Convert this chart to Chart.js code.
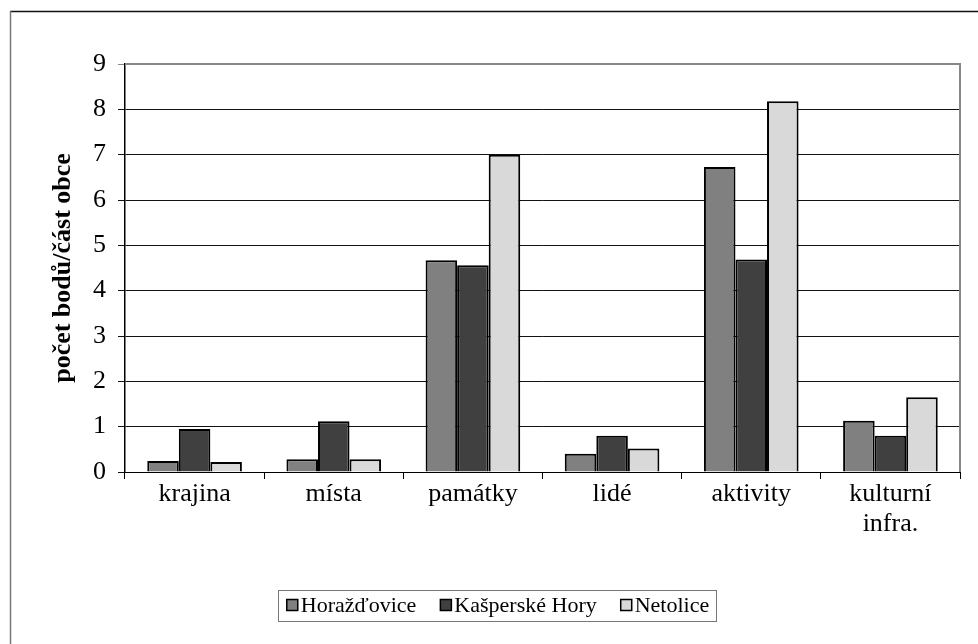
<!DOCTYPE html>
<html>
<head>
<meta charset="utf-8">
<script src="https://cdn.jsdelivr.net/npm/chart.js@4"></script>
<style>
html,body{margin:0;padding:0;background:#fff;}
#wrap{width:978px;height:644px;position:relative;}
</style>
</head>
<body>
<div id="wrap"><canvas id="c" width="978" height="644"></canvas></div>
<script>
const categories = ['krajina', 'místa', 'památky', 'lidé', 'aktivity', ['kulturní', 'infra.']];
const horazdovice = [0.24, 0.28, 4.67, 0.40, 6.73, 1.13];
const kasperskeHory = [0.95, 1.12, 4.56, 0.80, 4.69, 0.80];
const netolice = [0.22, 0.28, 7.00, 0.52, 8.18, 1.65];
const seriesNames = ['Horažďovice', 'Kašperské Hory', 'Netolice'];
const yTicks = [0, 1, 2, 3, 4, 5, 6, 7, 8, 9];

const FONT = '"Liberation Serif", "Times New Roman", serif';

const framePlugin = {
  id: 'frame',
  beforeDraw(chart) {
    const ctx = chart.ctx;
    ctx.save();
    ctx.fillStyle = '#fff';
    ctx.fillRect(0, 0, chart.width, chart.height);
    ctx.strokeStyle = '#111';
    ctx.lineWidth = 1.5;
    ctx.beginPath();
    ctx.moveTo(10, 11.5); ctx.lineTo(978, 11.5);
    ctx.stroke();
    ctx.strokeStyle = '#777';
    ctx.beginPath();
    ctx.moveTo(10.5, 11); ctx.lineTo(10.5, 644);
    ctx.stroke();
    ctx.restore();
  },
  afterDatasetsDraw(chart) {
    const ctx = chart.ctx;
    const a = chart.chartArea;
    ctx.save();
    ctx.strokeStyle = '#888';
    ctx.lineWidth = 2;
    ctx.beginPath();
    ctx.moveTo(a.left, a.top);
    ctx.lineTo(a.right, a.top);
    ctx.lineTo(a.right, a.bottom);
    ctx.stroke();
    ctx.restore();
  },
  afterDraw(chart) {
    const ctx = chart.ctx;
    ctx.save();
    ctx.font = '22px ' + FONT;
    const box = 11, gapBoxText = 3, gapItems = 24;
    const items = chart.data.datasets.map(d => ({label: d.label, color: d.backgroundColor, w: box + gapBoxText + ctx.measureText(d.label).width}));
    const total = items.reduce((s, it) => s + it.w, 0) + gapItems * (items.length - 1);
    const cx = 498, cy = 605;
    const boxL = 278, boxR = 716, boxT = 590, boxB = 621;
    ctx.strokeStyle = '#777';
    ctx.lineWidth = 1;
    ctx.strokeRect(boxL + 0.5, boxT + 0.5, boxR - boxL, boxB - boxT);
    let x = cx - total / 2;
    ctx.textBaseline = 'middle';
    items.forEach(it => {
      ctx.fillStyle = it.color;
      ctx.fillRect(x, cy - box / 2, box, box);
      ctx.strokeStyle = '#000';
      ctx.lineWidth = 1.5;
      ctx.strokeRect(x, cy - box / 2, box, box);
      ctx.fillStyle = '#000';
      ctx.fillText(it.label, x + box + gapBoxText, cy + 1);
      x += it.w + gapItems;
    });
    ctx.restore();
  }
};

new Chart(document.getElementById('c'), {
  type: 'bar',
  data: {
    labels: categories,
    datasets: [
      {label: seriesNames[0], data: horazdovice, backgroundColor: '#808080'},
      {label: seriesNames[1], data: kasperskeHory, backgroundColor: '#404040'},
      {label: seriesNames[2], data: netolice, backgroundColor: '#d9d9d9'}
    ].map(d => Object.assign(d, {borderColor: '#000', borderWidth: 2, borderSkipped: 'bottom', categoryPercentage: 0.68, barPercentage: 1.0}))
  },
  options: {
    responsive: false,
    animation: false,
    devicePixelRatio: 1,
    layout: {padding: {left: 48, top: 64, right: 18, bottom: 95}},
    plugins: {legend: {display: false}, tooltip: {enabled: false}},
    scales: {
      x: {
        afterFit(s) { s.height = 77; },
        grid: {offset: true, drawOnChartArea: false, drawTicks: true, tickLength: 7, color: '#000', lineWidth: 1},
        border: {display: true, color: '#000', width: 1},
        ticks: {color: '#000', font: {family: FONT, size: 26, lineHeight: 1.15}, padding: 0, maxRotation: 0, autoSkip: false}
      },
      y: {
        min: 0, max: 9,
        afterFit(s) { s.width = 77; },
        afterBuildTicks(s) { s.ticks = yTicks.map(v => ({value: v})); },
        grid: {color: ctx => (ctx.tick && ctx.tick.value === 9) ? '#888' : '#111', lineWidth: 1, tickLength: 7, drawTicks: true},
        border: {display: true, color: '#000', width: 1.5},
        ticks: {color: '#000', font: {family: FONT, size: 26}, padding: 12},
        title: {display: true, text: 'počet bodů/část obce', color: '#000', font: {family: FONT, size: 26, weight: 'bold'}, padding: {top: 0, bottom: 0}}
      }
    }
  },
  plugins: [framePlugin]
});
</script>
</body>
</html>
